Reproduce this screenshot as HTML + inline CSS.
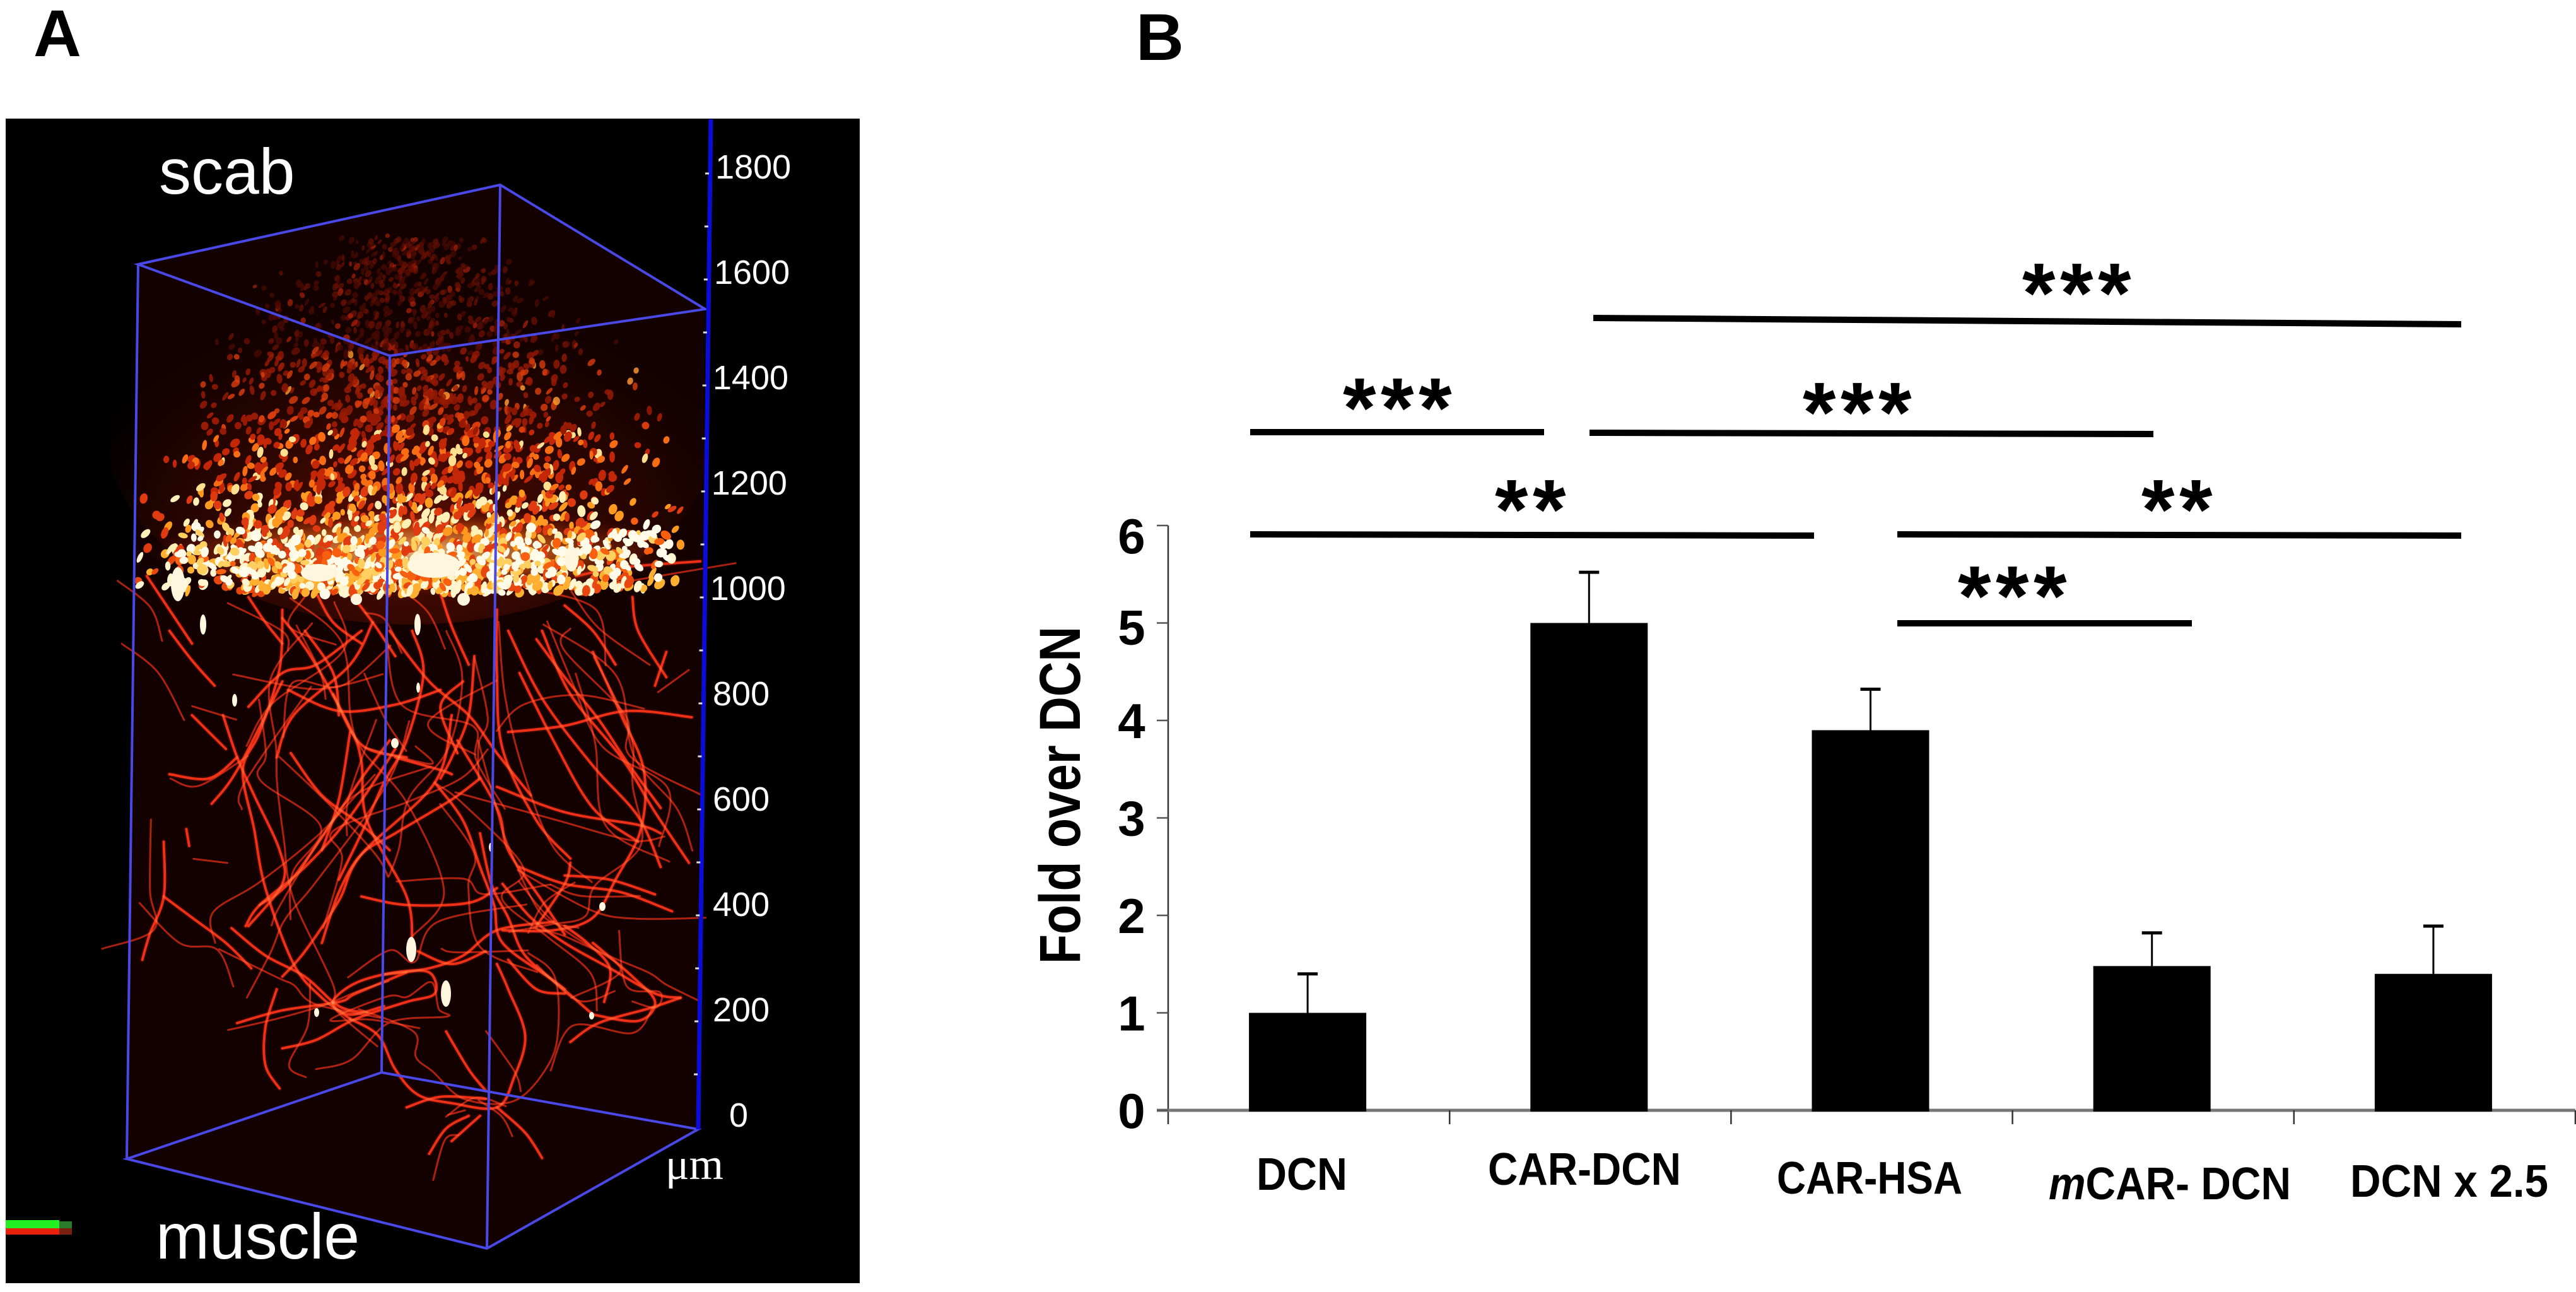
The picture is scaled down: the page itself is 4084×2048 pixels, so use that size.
<!DOCTYPE html>
<html lang="en">
<head>
<meta charset="utf-8">
<title>Panel A microscopy and Panel B fold over DCN bar chart</title>
<style>
html,body{margin:0;padding:0;background:#fff;}
svg{display:block;}
text{font-family:"Liberation Sans",sans-serif;}
.fiber{mix-blend-mode:screen;fill:none;stroke-linecap:round;stroke-linejoin:round;}
</style>
</head>
<body>
<svg id="figure" xmlns="http://www.w3.org/2000/svg" width="4084" height="2048" viewBox="0 0 4084 2048">
  <defs>
    <radialGradient id="band-glow" cx="50%" cy="50%" r="50%">
      <stop offset="0%" stop-color="#ffd890" stop-opacity="0.85"/>
      <stop offset="55%" stop-color="#f87018" stop-opacity="0.5"/>
      <stop offset="100%" stop-color="#a01000" stop-opacity="0"/>
    </radialGradient>
    <radialGradient id="dome-glow" cx="50%" cy="75%" r="60%">
      <stop offset="0%" stop-color="#8c1804" stop-opacity="0.6"/>
      <stop offset="65%" stop-color="#500c02" stop-opacity="0.3"/>
      <stop offset="100%" stop-color="#300600" stop-opacity="0"/>
    </radialGradient>
  </defs>

  <rect x="0" y="0" width="4084" height="2048" fill="#ffffff"/>

  <text x="53" y="89" font-size="105" font-weight="700" fill="#000">A</text>
  <text x="1801" y="95" font-size="105" font-weight="700" fill="#000">B</text>

  <!-- PANEL A -->
  <g id="panel-a">
    <rect x="9" y="188" width="1354" height="1846" fill="#000"/>
    <polygon points="219,419 793,293 1118,490 1107,1790 772,1979 201,1837" fill="#120100"/>
    <ellipse cx="650" cy="690" rx="480" ry="300" fill="url(#dome-glow)"/>
    <g id="fibers"></g>
    <ellipse cx="660" cy="875" rx="430" ry="70" fill="url(#band-glow)"/>
    <g id="speckles"></g>
    <g fill="#fff6e0">
      <ellipse cx="282" cy="926" rx="11" ry="27"/>
      <ellipse cx="688" cy="896" rx="42" ry="20"/>
      <ellipse cx="906" cy="886" rx="11" ry="20"/>
      <ellipse cx="505" cy="908" rx="28" ry="14"/>
      <ellipse cx="565" cy="950" rx="9" ry="9"/>
      <ellipse cx="735" cy="950" rx="10" ry="10"/>
      <ellipse cx="662" cy="990" rx="5" ry="17"/>
      <ellipse cx="322" cy="990" rx="5" ry="16"/>
      <ellipse cx="652" cy="1505" rx="8" ry="20"/>
      <ellipse cx="707" cy="1575" rx="8" ry="21"/>
      <ellipse cx="372" cy="1110" rx="4" ry="10"/>
      <ellipse cx="626" cy="1178" rx="6" ry="8"/>
      <ellipse cx="663" cy="1090" rx="3" ry="8"/>
      <ellipse cx="955" cy="1437" rx="5" ry="7"/>
      <ellipse cx="502" cy="1605" rx="4" ry="7"/>
      <ellipse cx="938" cy="1610" rx="4" ry="6"/>
      <ellipse cx="778" cy="1343" rx="3" ry="7"/>
    </g>
    <g stroke="#4a48e6" stroke-width="4" fill="none">
      <polygon points="219,419 793,293 1118,490 618,564"/>
      <polygon points="201,1837 605,1700 1107,1790 772,1979"/>
      <line x1="219" y1="419" x2="201" y2="1837"/>
      <line x1="793" y1="293" x2="772" y2="1979"/>
      <line x1="618" y1="564" x2="605" y2="1700"/>
    </g>
    <line x1="1127" y1="189" x2="1107" y2="1790" stroke="#0c0cd8" stroke-width="7"/>
    <g id="depth-axis"></g>
    <text x="252" y="307" font-size="102" fill="#fff">scab</text>
    <text x="247" y="1995" font-size="102" fill="#fff">muscle</text>
    <text x="1055" y="1869" font-size="70" fill="#fff" style="font-family:'Liberation Serif',serif">μm</text>
    <g>
      <rect x="9" y="1936" width="105" height="11" fill="#2c7a2c"/>
      <rect x="9" y="1947" width="105" height="10" fill="#7a2010"/>
      <rect x="9" y="1934" width="85" height="13" fill="#22f022"/>
      <rect x="9" y="1947" width="85" height="10" fill="#e8200c"/>
    </g>
  </g>

  <!-- PANEL B -->
  <g id="panel-b">
    <g id="chart-axes"></g>
    <g id="chart-bars"></g>

    <text transform="translate(1712,1528) rotate(-90)" x="0" y="0" font-size="92" font-weight="700" fill="#000" textLength="535" lengthAdjust="spacingAndGlyphs">Fold over DCN</text>

    <g font-size="72" font-weight="700" fill="#000">
      <text x="1992" y="1886" textLength="144" lengthAdjust="spacingAndGlyphs">DCN</text>
      <text x="2359" y="1878" textLength="306" lengthAdjust="spacingAndGlyphs">CAR-DCN</text>
      <text x="2817" y="1892" textLength="294" lengthAdjust="spacingAndGlyphs">CAR-HSA</text>
      <text x="3248" y="1901" textLength="384" lengthAdjust="spacingAndGlyphs"><tspan font-style="italic">m</tspan>CAR- DCN</text>
      <text x="3726" y="1897" textLength="314" lengthAdjust="spacingAndGlyphs">DCN x 2.5</text>
    </g>

    <g stroke="#000" stroke-width="10">
      <line x1="2526" y1="504" x2="3902" y2="514"/>
      <line x1="1982" y1="685" x2="2448" y2="685"/>
      <line x1="2520" y1="686" x2="3414" y2="688"/>
      <line x1="1982" y1="847" x2="2876" y2="849"/>
      <line x1="3008" y1="847" x2="3902" y2="849"/>
      <line x1="3008" y1="988" x2="3475" y2="988"/>
    </g>
    <g font-size="135" font-weight="700" fill="#000" letter-spacing="7.5">
      <text x="3206" y="511">***</text>
      <text x="2129" y="693">***</text>
      <text x="2858" y="700">***</text>
      <text x="2370" y="854">**</text>
      <text x="3395" y="854">**</text>
      <text x="3104" y="991">***</text>
    </g>
  </g>
</svg>

<script>
// ---- Panel B chart data ----
const categories = ["DCN", "CAR-DCN", "CAR-HSA", "mCAR-DCN", "DCN x 2.5"];
const foldValues = [1.0, 5.0, 3.9, 1.48, 1.4];
const errorValues = [0.4, 0.52, 0.42, 0.34, 0.49];
const yTicks = [0, 1, 2, 3, 4, 5, 6];
// ---- Panel A depth scale ----
const depthLabels = [0, 200, 400, 600, 800, 1000, 1200, 1400, 1600, 1800];

const NS = "http://www.w3.org/2000/svg";
function mk(tag, attrs) {
  const el = document.createElementNS(NS, tag);
  for (const k in attrs) el.setAttribute(k, attrs[k]);
  return el;
}

// axis functions
const plotLeft = 1852, plotRight = 4083, plotZero = 1760, unitHeight = 154.5;
const barWidth = 186;
function yScale(v) { return plotZero - v * unitHeight; }
function bandLeft(i) { return plotLeft + i * (plotRight - plotLeft) / categories.length; }
function bandCenter(i) { return bandLeft(i) + (plotRight - plotLeft) / categories.length / 2; }

const axes = document.getElementById("chart-axes");
const bars = document.getElementById("chart-bars");

const yAxisLine = mk("line", {x1: plotLeft, y1: yScale(yTicks[yTicks.length - 1]), x2: plotLeft, y2: plotZero + 22, stroke: "#333", "stroke-width": 2.5});


axes.appendChild(yAxisLine);

const xAxisLine = mk("line", {x1: plotLeft - 18, y1: plotZero, x2: plotRight, y2: plotZero, stroke: "#777", "stroke-width": 5});


axes.appendChild(xAxisLine);

yTicks.forEach(function (t) {
  const tick = mk("line", {x1: plotLeft - 18, y1: yScale(t), x2: plotLeft, y2: yScale(t), stroke: "#555", "stroke-width": 2.5});
  
  
  axes.appendChild(tick);
  const shift = t === 6 ? 16 : t === 5 ? 6 : 0;
  const label = mk("text", {x: 1794, y: yScale(t) + shift + 28, "font-size": 78, "font-weight": 700, "text-anchor": "middle", fill: "#000"});
  label.textContent = String(t);
  
  
  axes.appendChild(label);
});

categories.forEach(function (c, i) {
  const tick = mk("line", {x1: bandLeft(i + 1), y1: plotZero, x2: bandLeft(i + 1), y2: plotZero + 22, stroke: "#333", "stroke-width": 2.5});
  
  
  axes.appendChild(tick);
});

foldValues.forEach(function (v, i) {
  const cx = bandCenter(i) - 2;
  const top = yScale(v);
  const errTop = yScale(v + errorValues[i]);
  const stem = mk("line", {x1: cx, y1: top, x2: cx, y2: errTop, stroke: "#000", "stroke-width": 3});
  
  
  bars.appendChild(stem);
  const cap = mk("line", {x1: cx - 16, y1: errTop, x2: cx + 16, y2: errTop, stroke: "#000", "stroke-width": 5});
  
  
  bars.appendChild(cap);
  const bar = mk("rect", {x: cx - barWidth / 2, y: top, width: barWidth, height: plotZero + 2 - top, fill: "#000"});
  
  
  bars.appendChild(bar);
});

// depth scale in panel A
const depthAxis = document.getElementById("depth-axis");
function depthAxisX(y) { return 1127 - (y - 189) * 20 / 1601; }
function depthTickY(v) { return 1787 - v * 0.84; }
function depthLabelY(v) { return 1767 - v * 0.835; }
for (let v = 100; v <= 1800; v += 100) {
  const ty = depthTickY(v);
  const tx = depthAxisX(ty);
  const tick = mk("rect", {x: tx - 8, y: ty - 1.5, width: 6, height: 3, fill: "#ddd"});
  
  
  depthAxis.appendChild(tick);
}
depthLabels.forEach(function (v) {
  const ly = depthLabelY(v);
  const label = mk("text", {x: v === 0 ? 1156 : v >= 1000 ? depthAxisX(ly) + 8 : 1130, y: ly + 19, "font-size": 54, fill: "#fff"});
  label.textContent = String(v);
  
  
  depthAxis.appendChild(label);
});

// ---- Microscopy texture (image imitation, not chart data) ----
const strands = [
 [[500,-50],[495,90],[460,240],[430,330],[450,470],[470,610],[520,790],[570,870],[620,920]],
 [[640,0],[560,80],[500,100],[440,180]],
 [[395,200],[420,300],[450,390],[495,520],[500,600],[440,700]],
 [[410,705],[470,770],[540,820],[600,890],[650,905]],
 [[290,500],[290,630],[265,720],[252,780]],
 [[290,630],[340,680],[400,740],[445,800]],
 [[300,340],[370,350],[420,300]],
 [[375,410],[420,330],[500,120]],
 [[340,200],[400,280]],
 [[500,-30],[550,60],[620,230],[640,310],[650,450],[720,630],[730,740]],
 [[700,280],[620,440],[540,560],[460,650],[435,700]],
 [[800,200],[770,360],[640,530],[600,640],[540,760],[500,820]],
 [[770,360],[820,450],[850,560],[875,650],[890,740],[980,830],[1050,910]],
 [[690,0],[760,120],[830,200],[880,290],[940,390]],
 [[840,60],[830,200],[800,300],[780,350]],
 [[880,-50],[880,100],[890,280],[950,450],[1010,540]],
 [[900,0],[960,160],[1050,320],[1130,440],[1170,560]],
 [[960,0],[1010,150],[1100,300],[1160,430],[1220,550]],
 [[1050,50],[1100,200],[1140,330],[1135,470],[1090,590],[1050,680],[980,710],[890,710]],
 [[640,630],[720,650],[830,645],[880,610]],
 [[510,140],[600,190],[700,175],[780,140]],
 [[900,240],[1000,225],[1110,190],[1225,205]],
 [[515,290],[570,390],[640,460],[690,520]],
 [[620,240],[600,400],[570,520]],
 [[880,370],[1000,430],[1130,460],[1170,480]],
 [[920,560],[1000,600],[1100,620],[1190,665]],
 [[890,600],[940,680],[1000,740],[1080,800],[1160,860],[1205,870]],
 [[1205,870],[1150,895],[1060,930],[1010,975]],
 [[900,780],[950,850],[1000,860]],
 [[1050,910],[1130,925],[1160,880],[1120,820],[1050,740]],
 [[500,990],[560,970],[630,920],[720,880],[770,860],[760,810],[700,810],[630,835],[590,880],[620,910],[680,890]],
 [[420,930],[500,900],[600,880],[630,860],[720,810]],
 [[490,850],[470,940],[470,1030],[495,1085]],
 [[620,920],[670,960],[700,1040],[740,1100],[800,1120],[880,1130],[910,1060],[930,960],[900,850],[880,790]],
 [[790,950],[830,1040],[860,1090]],
 [[720,1130],[780,1105],[860,1110]],
 [[830,1150],[790,1180],[760,1240]],
 [[880,1130],[930,1190],[960,1250]],
 [[850,1150],[800,1210]],
 [[680,815],[760,800],[820,770],[880,710],[980,690]],
 [[740,760],[800,790],[860,760]],
 [[460,650],[510,600],[580,470],[640,350],[690,260]],
 [[570,740],[600,620],[640,530],[700,480],[800,400],[850,350]],
 [[700,300],[780,330],[800,340]],
 [[1010,550],[1000,600],[950,700]],
 [[1000,700],[1040,740],[1080,800],[1070,880]],
 [[850,480],[870,600],[900,680],[930,770],[1000,850]],
 [[810,260],[880,420],[900,520],[960,640],[1000,720]],
 [[330,470],[335,510]],
 [[950,20],[1000,110],[1060,210],[1110,310],[1170,420]],
 [[1180,50],[1160,130]],
 [[920,100],[980,260],[1050,420],[1130,500]],
 [[730,0],[750,100],[720,260],[680,360],[640,480],[600,590]],
 [[1000,580],[1080,590],[1160,625]],
 [[540,0],[590,100],[600,200]],
 [[300,0],[340,70],[380,130]],
 [[660,-20],[620,80],[520,200],[490,300]],
 [[590,150],[640,270],[720,300]],
 [[820,120],[780,180],[810,290]],
 [[440,-80],[470,-20],[500,30]],
 [[620,-90],[660,-20],[700,60]],
 [[780,-90],[800,-10],[830,80]],
 [[1000,-60],[1050,0],[1090,80]],
 [[1020,-130],[1100,-150],[1240,-165]],
 [[260,-130],[300,-50],[340,30]],
 [[560,-90],[590,-20],[640,30]],
 [[1120,-80],[1130,0],[1180,110]]
];

let seed = 73421;
function rnd() { seed = (seed * 1664525 + 1013904223) >>> 0; return seed / 4294967296; }
function gauss() { return (rnd() + rnd() + rnd() - 1.5) / 1.5; }

function smoothPath(pts, jx, jy) {
  const dx0 = (rnd() - 0.5) * jx, dy0 = (rnd() - 0.5) * jy;
  const r = pts.map(function (p) {
    return [p[0] / 1.117 + dx0 + (rnd() - 0.5) * jx * 0.6, 1000 + p[1] / 1.496 + dy0 + (rnd() - 0.5) * jy * 0.6];
  });
  let d = "M" + r[0][0].toFixed(1) + " " + r[0][1].toFixed(1);
  for (let i = 0; i < r.length - 1; i++) {
    const p0 = r[Math.max(i - 1, 0)], p1 = r[i], p2 = r[i + 1], p3 = r[Math.min(i + 2, r.length - 1)];
    d += "C" + (p1[0] + (p2[0] - p0[0]) / 6).toFixed(1) + " " + (p1[1] + (p2[1] - p0[1]) / 6).toFixed(1) + " " +
         (p2[0] - (p3[0] - p1[0]) / 6).toFixed(1) + " " + (p2[1] - (p3[1] - p1[1]) / 6).toFixed(1) + " " +
         p2[0].toFixed(1) + " " + p2[1].toFixed(1);
  }
  return d;
}
const fiberGroup = document.getElementById("fibers");
strands.forEach(function (pts) {
  const dj = mk("path", {d: smoothPath(pts, 130, 70), class: "fiber", stroke: "#a82010", "stroke-width": 3});
  
  
  fiberGroup.appendChild(dj);
});
strands.forEach(function (pts) {
  const d = smoothPath(pts, 0, 0);
  const halo = mk("path", {d: d, class: "fiber", stroke: "#500804", "stroke-width": 8, "stroke-opacity": 0.5});
  
  
  fiberGroup.appendChild(halo);
  const core = mk("path", {d: d, class: "fiber", stroke: "#e82c14", "stroke-width": 4});
  
  
  fiberGroup.appendChild(core);
});

const speckleGroup = document.getElementById("speckles");
function addSpeckle(x, y, rx, ry, fill, op) {
  const dot = mk("ellipse", {cx: x.toFixed(1), cy: y.toFixed(1), rx: rx.toFixed(1), ry: ry.toFixed(1), fill: fill, "fill-opacity": op.toFixed(2),
    transform: "rotate(" + (rnd() * 70 - 10).toFixed(0) + " " + x.toFixed(1) + " " + y.toFixed(1) + ")"});
  
  
  speckleGroup.appendChild(dot);
}
for (let i = 0; i < 2600; i++) {
  const t = Math.pow(rnd(), 1.55);
  const y = 935 - t * 555 + (rnd() - 0.5) * 14;
  const halfW = Math.max(130, 445 * Math.sqrt(Math.max(0, 1 - Math.pow(t, 2.5))));
  const u = 0.55 * (2 * rnd() - 1) + 0.45 * (2 * rnd() - 1);
  const x = 650 + u * halfW;
  let fill;
  const r = rnd();
  if (t < 0.1) fill = r < 0.35 ? "#fff6d0" : r < 0.72 ? "#ffb030" : "#e84810";
  else if (t < 0.28) fill = r < 0.3 ? "#fff0b8" : r < 0.62 ? "#ff9a20" : "#e03a10";
  else if (t < 0.45) fill = r < 0.12 ? "#ffe090" : r < 0.42 ? "#f86c14" : "#c42608";
  else if (t < 0.68) fill = r < 0.05 ? "#ff9a30" : r < 0.28 ? "#d83c0c" : "#981a04";
  else fill = r < 0.1 ? "#a82008" : r < 0.45 ? "#6a1002" : "#4a0a02";
  const k = 1 - 0.4 * t;
  const op = t > 0.5 ? 0.85 - 0.35 * (t - 0.5) : 1;
  addSpeckle(x, y, (3.5 + rnd() * 4) * k, (5.5 + rnd() * 5) * k, fill, op);
}
for (let i = 0; i < 380; i++) {
  const x = 280 + rnd() * 790;
  const c = (x - 640) / 400;
  const y = 895 - c * c * 35 + gauss() * 62;
  const r = rnd();
  addSpeckle(x, y, 4 + rnd() * 5, 4 + rnd() * 5, r < 0.6 ? "#fffbe8" : r < 0.85 ? "#ffd060" : "#f86010", 1);
}
</script>
</body>
</html>
